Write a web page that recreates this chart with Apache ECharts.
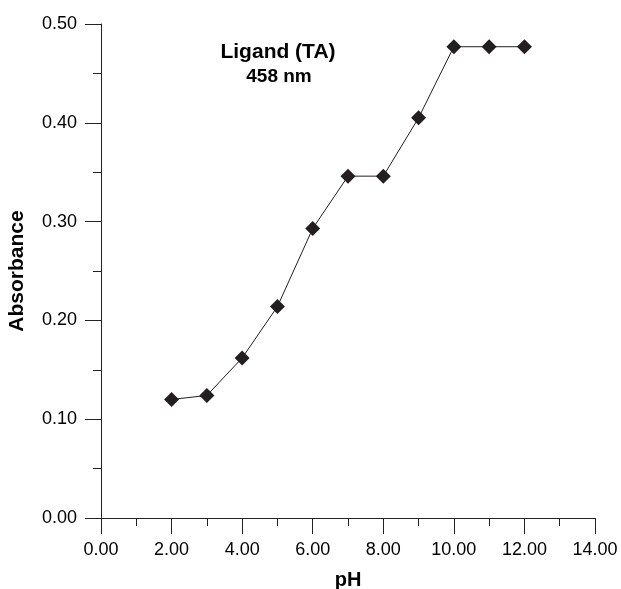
<!DOCTYPE html>
<html><head><meta charset="utf-8">
<script src="https://cdn.jsdelivr.net/npm/echarts@6/dist/echarts.min.js"></script>
<style>html,body{margin:0;padding:0;background:#fff}#c{width:621px;height:589px}</style>
</head><body><div id="c"></div>
<script>
const phValues = [2, 3, 4, 5, 6, 7, 8, 9, 10, 11, 12];
const absorbance = [0.120, 0.124, 0.162, 0.214, 0.293, 0.346, 0.346, 0.405, 0.477, 0.477, 0.477];
const titleText = 'Ligand (TA)';
const subText = '458 nm';

const chart = echarts.init(document.getElementById('c'));
const font = 'Liberation Sans, Arial, sans-serif';
chart.setOption({
  backgroundColor: '#fff',
  animation: false,
  title: [
    {text: titleText, left: 278, top: 42, textAlign: 'center', padding: 0,
     textStyle: {fontFamily: font, fontWeight: 'bold', fontSize: 21, color: '#000'}},
    {text: subText, left: 279, top: 67, textAlign: 'center', padding: 0,
     textStyle: {fontFamily: font, fontWeight: 'bold', fontSize: 19, color: '#000'}}
  ],
  grid: {left: 101, right: 26, top: 24, bottom: 71, outerBoundsMode: 'none', containLabel: false},
  xAxis: {
    type: 'value', min: 0, max: 14, interval: 2,
    name: 'pH', nameLocation: 'middle', nameGap: 52,
    nameTextStyle: {fontFamily: font, fontWeight: 'bold', fontSize: 20, color: '#000'},
    axisLine: {lineStyle: {color: '#222', width: 1}},
    axisTick: {show: true, length: 16, lineStyle: {color: '#222'}},
    minorTick: {show: true, splitNumber: 2, length: 8, lineStyle: {color: '#222'}},
    axisLabel: {margin: 23, fontFamily: font, fontSize: 18, color: '#000', formatter: v => v.toFixed(2)},
    splitLine: {show: false}
  },
  yAxis: {
    type: 'value', min: 0, max: 0.5, interval: 0.1,
    name: 'Absorbance', nameLocation: 'middle', nameGap: 73, nameRotate: 90,
    nameTextStyle: {fontFamily: font, fontWeight: 'bold', fontSize: 21, color: '#000'},
    axisLine: {show: true, lineStyle: {color: '#222', width: 1}},
    axisTick: {show: true, length: 16, lineStyle: {color: '#222'}},
    minorTick: {show: true, splitNumber: 2, length: 8, lineStyle: {color: '#222'}},
    axisLabel: {margin: 24, fontFamily: font, fontSize: 18, color: '#000', formatter: v => v.toFixed(2)},
    splitLine: {show: false}
  },
  series: [{
    type: 'line',
    data: phValues.map((x, i) => [x, absorbance[i]]),
    symbol: 'diamond', symbolSize: 15,
    itemStyle: {color: '#231f20'},
    lineStyle: {color: '#231f20', width: 1}
  }]
});
</script></body></html>
